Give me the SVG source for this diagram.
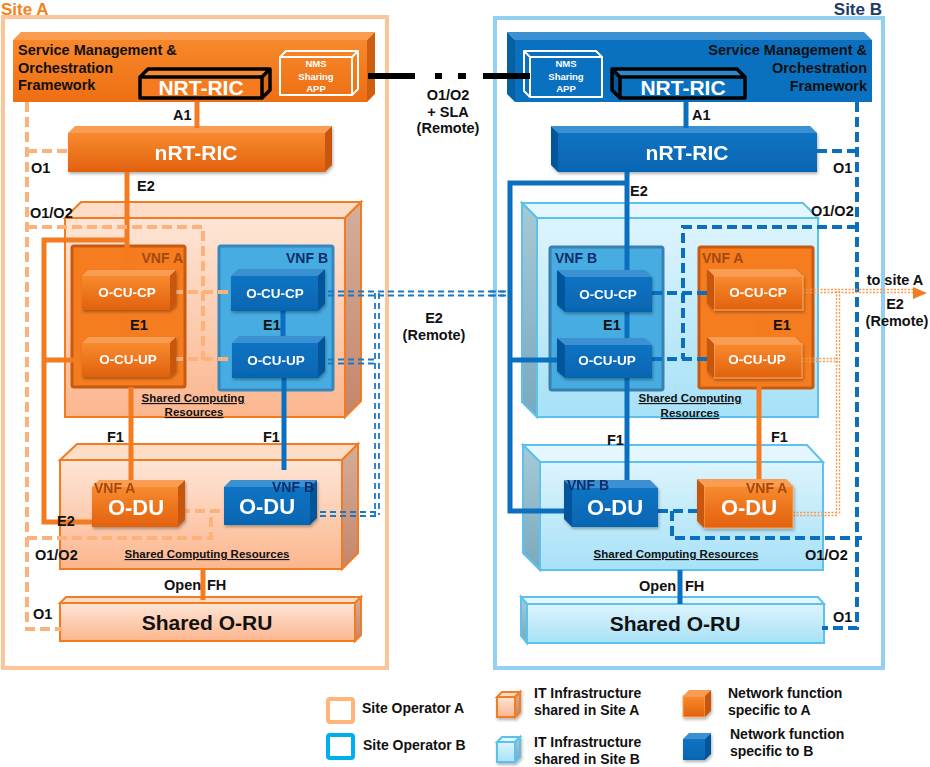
<svg xmlns="http://www.w3.org/2000/svg" width="930" height="767" viewBox="0 0 930 767">
<defs>
<linearGradient id="gOF" x1="0" y1="0" x2="0" y2="1"><stop offset="0" stop-color="#F88A2E"/><stop offset="1" stop-color="#E2610E"/></linearGradient>
<linearGradient id="gBF" x1="0" y1="0" x2="0" y2="1"><stop offset="0" stop-color="#0B73C3"/><stop offset="1" stop-color="#0666B2"/></linearGradient>
<linearGradient id="gPF" x1="0" y1="0" x2="0" y2="1"><stop offset="0" stop-color="#FEE5D6"/><stop offset="1" stop-color="#FBB68E"/></linearGradient>
<linearGradient id="gPS" x1="0" y1="0" x2="0" y2="1"><stop offset="0" stop-color="#D4AE9C"/><stop offset="1" stop-color="#C4866A"/></linearGradient>
<linearGradient id="gCF" x1="0" y1="0" x2="0" y2="1"><stop offset="0" stop-color="#DDF4FD"/><stop offset="1" stop-color="#A7E1F7"/></linearGradient>
<linearGradient id="gCS" x1="0" y1="0" x2="0" y2="1"><stop offset="0" stop-color="#A8C9D6"/><stop offset="1" stop-color="#79A9BD"/></linearGradient>
<linearGradient id="gSMOA" x1="0" y1="0" x2="0" y2="1"><stop offset="0" stop-color="#F8882C"/><stop offset="1" stop-color="#EE6E12"/></linearGradient>
<filter id="sh" x="-10%" y="-10%" width="130%" height="140%"><feDropShadow dx="1" dy="2" stdDeviation="1.5" flood-color="#000" flood-opacity="0.3"/></filter>
</defs>
<style>
text { font-family: "Liberation Sans", Arial, Helvetica, sans-serif; font-weight: bold; }
.lbl { font-size: 14.5px; fill: #111; }
.mid { text-anchor: middle; }
.end { text-anchor: end; }
.cu { font-size: 13.5px; fill: #fff; text-anchor: middle; }
.big { font-size: 21px; fill: #fff; text-anchor: middle; }
.oru { font-size: 21px; fill: #111; text-anchor: middle; }
.nms { font-size: 9.5px; fill: #fff; text-anchor: middle; }
.scr { font-size: 11.5px; fill: #111; text-anchor: middle; text-decoration: underline; }
.vnfa { font-size: 14px; fill: #A44A0F; }
.vnfb { font-size: 14px; fill: #0D2E6B; }
.leg { font-size: 14px; fill: #111; }
.oF { fill: url(#gOF); } .oT { fill: #F99D52; } .oS { fill: #C9570D; }
.bF { fill: url(#gBF); } .bT { fill: #3B90D2; } .bS { fill: #04559B; }
.pF { fill: url(#gPF); stroke: #F47B20; stroke-width: 2; } .pT { fill: #FDDCC8; stroke: #F47B20; stroke-width: 2; } .pS { fill: url(#gPS); stroke: #F47B20; stroke-width: 2; }
.cF { fill: url(#gCF); stroke: #5CC1EC; stroke-width: 2; } .cT { fill: #E4F7FE; stroke: #5CC1EC; stroke-width: 2; } .cS { fill: url(#gCS); stroke: #5CC1EC; stroke-width: 2; }
.oline { stroke: #F47B20; stroke-width: 5; fill: none; }
.bline { stroke: #0A6FBF; stroke-width: 5; fill: none; }
.odash { stroke: #FDB27C; stroke-width: 4; stroke-dasharray: 10 5; fill: none; }
.bdash { stroke: #0A6FBF; stroke-width: 4; stroke-dasharray: 10 5; fill: none; }
.bdbl { stroke: #1A78C8; stroke-width: 1.8; stroke-dasharray: 6 4; fill: none; }
.odot { stroke: #F79A50; stroke-width: 1.4; stroke-dasharray: 2 1.5; fill: none; }
.wout { fill: none; stroke: #fff; stroke-width: 2; stroke-linejoin: round; }
</style>

<!-- Site frames -->
<g id="siteA">
<rect x="3" y="17" width="384" height="651" fill="none" stroke="#FDC49A" stroke-width="4"/>
<text x="1" y="15" style="font-size:17px;fill:#F58220">Site A</text>
</g>
<g id="siteB">
<rect x="495" y="18" width="388" height="650" fill="none" stroke="#92D1F2" stroke-width="4"/>
<text x="882" y="15" class="end" style="font-size:17px;fill:#1B3A6B">Site B</text>
</g>

<!-- Shared computing boxes Site A -->
<g id="scrA1">
<rect x="65" y="218" width="280" height="199" class="pF"/>
<polygon points="65,218 81,202 361,202 345,218" class="pT"/>
<polygon points="345,218 361,202 361,401 345,417" class="pS"/>
<text x="193" y="402" class="scr">Shared Computing</text>
<text x="194" y="416" class="scr">Resources</text>
</g>
<g id="scrA2">
<rect x="60" y="460" width="282" height="109" class="pF"/>
<polygon points="60,460 77,444 358,444 342,460" class="pT"/>
<polygon points="342,460 358,444 358,553 342,569" class="pS"/>
<text x="207" y="558" class="scr">Shared Computing Resources</text>
</g>
<g id="oruA">
<rect x="60" y="603" width="295" height="38" class="pF"/>
<polygon points="60,603 66,597 361,597 355,603" class="pT"/>
<polygon points="355,603 361,597 361,635 355,641" class="pS"/>
<text x="207" y="630" class="oru">Shared O-RU</text>
</g>

<!-- Shared computing boxes Site B -->
<g id="scrB1">
<rect x="537" y="218" width="281" height="199" class="cF"/>
<polygon points="537,218 522,203 803,203 818,218" class="cT"/>
<polygon points="537,218 522,203 522,402 537,417" class="cS"/>
<text x="690" y="402" class="scr">Shared Computing</text>
<text x="690" y="417" class="scr">Resources</text>
</g>
<g id="scrB2">
<rect x="540" y="462" width="283" height="108" class="cF"/>
<polygon points="540,462 523,445 807,445 823,462" class="cT"/>
<polygon points="540,462 523,445 523,553 540,570" class="cS"/>
<text x="676" y="558" class="scr">Shared Computing Resources</text>
</g>
<g id="oruB">
<rect x="527" y="604" width="297" height="39" class="cF"/>
<polygon points="527,604 521,597 818,597 824,604" class="cT"/>
<polygon points="527,604 521,597 521,636 527,643" class="cS"/>
<text x="675" y="631" class="oru">Shared O-RU</text>
</g>

<!-- VNF containers -->
<g id="vnfA_siteA">
<rect x="72" y="246" width="113" height="141" rx="2" fill="#F57C1F" stroke="#C65A12" stroke-width="3"/>
<text x="183" y="263" class="vnfa end">VNF A</text>
</g>
<g id="vnfB_siteA">
<rect x="219" y="246" width="114" height="144" rx="2" fill="#47ACE1" stroke="#3487BF" stroke-width="3"/>
<text x="328" y="263" class="vnfb end">VNF B</text>
</g>
<g id="vnfB_siteB">
<rect x="550" y="247" width="113" height="143" rx="2" fill="#47ACE1" stroke="#3A7FAE" stroke-width="3"/>
<text x="555" y="263" class="vnfb">VNF B</text>
</g>
<g id="vnfA_siteB">
<rect x="699" y="247" width="114" height="141" rx="2" fill="#F57C1F" stroke="#C65A12" stroke-width="3"/>
<text x="702" y="263" class="vnfa">VNF A</text>
</g>

<!-- SMO Site A -->
<g id="smoA">
<rect x="13" y="40" width="354" height="62" fill="url(#gSMOA)"/>
<polygon points="13,40 21,32 375,32 367,40" fill="#F99C4E"/>
<polygon points="367,40 375,32 375,94 367,102" fill="#CF5F10"/>
<text x="18" y="55" class="lbl">Service Management &amp;</text>
<text x="18" y="73" class="lbl">Orchestration</text>
<text x="18" y="90" class="lbl">Framework</text>
</g>
<g id="nrtA">
<rect x="140" y="77" width="122" height="21" fill="#F47B20"/>
<polygon points="140,77 148,69 270,69 262,77" fill="#F58A36"/>
<polygon points="262,77 270,69 270,90 262,98" fill="#E06A12"/>
<path d="M140,77 L148,69 L270,69 L270,90 L262,98 L140,98 Z M140,77 H262 L270,69 M262,77 V98" fill="none" stroke="#000" stroke-width="3.5" stroke-linejoin="round"/>
<text x="201" y="95" class="big">NRT-RIC</text>
</g>
<g id="nmsA">
<path d="M280,57 L286,51 L358,51 L358,89 L352,95 L280,95 Z M280,57 H352 L358,51 M352,57 V95" class="wout"/>
<text x="316" y="67" class="nms">NMS</text>
<text x="316" y="80" class="nms">Sharing</text>
<text x="316" y="92" class="nms">APP</text>
</g>

<!-- SMO Site B -->
<g id="smoB">
<rect x="515" y="40" width="357" height="62" fill="#0A70C0"/>
<polygon points="515,40 507,32 864,32 872,40" fill="#3A90D1"/>
<polygon points="515,40 507,32 507,94 515,102" fill="#07609F"/>
<text x="867" y="55" class="lbl end">Service Management &amp;</text>
<text x="867" y="73" class="lbl end">Orchestration</text>
<text x="867" y="91" class="lbl end">Framework</text>
</g>
<g id="nrtB">
<rect x="620" y="77" width="125" height="21" fill="#0A70C0"/>
<polygon points="620,77 612,69 737,69 745,77" fill="#2F86C9"/>
<polygon points="620,77 612,69 612,90 620,98" fill="#07589A"/>
<path d="M612,69 L737,69 L745,77 L745,98 L620,98 L612,90 Z M612,69 L620,77 H745 M620,77 V98" fill="none" stroke="#000" stroke-width="3.5" stroke-linejoin="round"/>
<text x="683" y="95" class="big">NRT-RIC</text>
</g>
<g id="nmsB">
<path d="M524,51 L596,51 L602,57 L602,97 L530,97 L524,91 Z M524,51 L530,57 H602 M530,57 V97" class="wout"/>
<text x="566" y="67" class="nms">NMS</text>
<text x="566" y="80" class="nms">Sharing</text>
<text x="566" y="92" class="nms">APP</text>
</g>

<!-- nRT-RIC -->
<g id="nrtricA" filter="url(#sh)">
<rect x="68" y="133" width="257" height="39" class="oF"/>
<polygon points="68,133 75,126 332,126 325,133" class="oT"/>
<polygon points="325,133 332,126 332,165 325,172" class="oS"/>
<text x="196" y="160" class="big">nRT-RIC</text>
</g>
<g id="nrtricB" filter="url(#sh)">
<rect x="558" y="133" width="259" height="39" class="bF"/>
<polygon points="558,133 551,126 810,126 817,133" class="bT"/>
<polygon points="558,133 551,126 551,165 558,172" class="bS"/>
<text x="687" y="160" class="big">nRT-RIC</text>
</g>

<!-- Connectors -->
<g id="connectors">
<path class="oline" d="M197,102 V128"/>
<path class="oline" d="M127,172 V276"/>
<path class="oline" d="M127,240 H44 V522 H92"/>
<path class="oline" d="M44,360 H88"/>
<path class="oline" d="M125,310 V343"/>
<path class="oline" d="M131,387 V492"/>
<path class="oline" d="M203,569 V600"/>
<path class="bline" d="M283,311 V343"/>
<path class="bline" d="M284,378 V470"/>
<path class="odash" d="M27,102 V629 H62"/>
<path class="odash" d="M27,151 H68"/>
<path class="odash" d="M27,227 H203 V360"/>
<path class="odash" d="M173,292 H231"/>
<path class="odash" d="M173,359 H232"/>
<path class="odash" d="M27,538 H211 V511"/>
<path class="odash" d="M180,511 H226"/>
<path class="bdbl" d="M318,291.5 H510 M318,295.5 H510"/>
<path class="bdbl" d="M375,293 V515 M379,293 V515"/>
<path class="bdbl" d="M318,359.5 H377 M318,363.5 H377"/>
<path class="bdbl" d="M310,512 H377 M310,516 H377"/>
<path class="bdbl" d="M490,291.5 H512 M490,295.5 H512"/>
<path d="M368,76 H415 M435,76 H442 M458,76 H466 M483,76 H530" stroke="#000" stroke-width="6" fill="none"/>
<path class="bline" d="M686,102 V128"/>
<path class="bline" d="M627,172 V277"/>
<path class="bline" d="M627,183 H510 V511 H572"/>
<path class="bline" d="M510,360 H565"/>
<path class="bline" d="M627,312 V345"/>
<path class="bline" d="M627,378 V488"/>
<path class="bline" d="M680,570 V604"/>
<path class="oline" d="M759,310 V344"/>
<path class="oline" d="M759,378 V486"/>
<path class="bdash" d="M857,102 V628 H822"/>
<path class="bdash" d="M817,151 H857"/>
<path class="bdash" d="M857,227 H683 V359"/>
<path class="bdash" d="M652,293 H714"/>
<path class="bdash" d="M652,359 H714"/>
<path class="bdash" d="M658,511 H704"/>
<path class="bdash" d="M672,511 V538 H862"/>
<path class="odot" d="M803,289.5 H913 M803,292.5 H913"/>
<path class="odot" d="M836.5,291 V515 M839.5,291 V515"/>
<path class="odot" d="M802,358.5 H838 M802,361.5 H838"/>
<path class="odot" d="M793,512.5 H838 M793,515.5 H838"/>
<polygon points="913,287 927,293 913,299" fill="#F47B20"/>
</g>

<!-- NF boxes Site A -->
<g id="cucpA_siteA" filter="url(#sh)">
<rect x="82" y="276" width="88" height="34" class="oF"/>
<polygon points="82,276 88,270 176,270 170,276" class="oT"/>
<polygon points="170,276 176,270 176,304 170,310" class="oS"/>
<text x="127" y="297" class="cu">O-CU-CP</text>
</g>
<g id="cuupA_siteA" filter="url(#sh)">
<rect x="82" y="343" width="88" height="34" class="oF"/>
<polygon points="82,343 88,337 176,337 170,343" class="oT"/>
<polygon points="170,343 176,337 176,371 170,377" class="oS"/>
<text x="128" y="364" class="cu">O-CU-UP</text>
</g>
<g id="cucpB_siteA" filter="url(#sh)">
<rect x="231" y="276" width="87" height="35" class="bF"/>
<polygon points="231,276 238,269 325,269 318,276" class="bT"/>
<polygon points="318,276 325,269 325,304 318,311" class="bS"/>
<text x="275" y="298" class="cu">O-CU-CP</text>
</g>
<g id="cuupB_siteA" filter="url(#sh)">
<rect x="232" y="343" width="86" height="35" class="bF"/>
<polygon points="232,343 239,336 325,336 318,343" class="bT"/>
<polygon points="318,343 325,336 325,371 318,378" class="bS"/>
<text x="276" y="365" class="cu">O-CU-UP</text>
</g>
<g id="oduA_siteA" filter="url(#sh)">
<rect x="92" y="487" width="86" height="40" class="oF"/>
<polygon points="92,487 99,480 185,480 178,487" class="oT"/>
<polygon points="178,487 185,480 185,520 178,527" class="oS"/>
<text x="136" y="515" class="big" style="font-size:22px">O-DU</text>
<text x="94" y="493" class="vnfa">VNF A</text>
</g>
<g id="oduB_siteA" filter="url(#sh)">
<rect x="224" y="487" width="86" height="38" class="bF"/>
<polygon points="224,487 231,480 317,480 310,487" class="bT"/>
<polygon points="310,487 317,480 317,518 310,525" class="bS"/>
<text x="267" y="514" class="big" style="font-size:22px">O-DU</text>
<text x="272" y="492" class="vnfb">VNF B</text>
</g>

<!-- NF boxes Site B -->
<g id="cucpB_siteB" filter="url(#sh)">
<rect x="565" y="277" width="87" height="35" class="bF"/>
<polygon points="565,277 557,270 645,270 652,277" class="bT"/>
<polygon points="565,277 557,270 557,305 565,312" class="bS"/>
<text x="608" y="299" class="cu">O-CU-CP</text>
</g>
<g id="cuupB_siteB" filter="url(#sh)">
<rect x="565" y="345" width="87" height="33" class="bF"/>
<polygon points="565,345 557,338 645,338 652,345" class="bT"/>
<polygon points="565,345 557,338 557,371 565,378" class="bS"/>
<text x="607" y="365" class="cu">O-CU-UP</text>
</g>
<g id="cucpA_siteB" filter="url(#sh)">
<rect x="714" y="276" width="89" height="34" class="oF" stroke="#F9A865" stroke-width="1"/>
<polygon points="714,276 707,269 796,269 803,276" class="oT"/>
<polygon points="714,276 707,269 707,303 714,310" class="oS"/>
<text x="758" y="297" class="cu">O-CU-CP</text>
</g>
<g id="cuupA_siteB" filter="url(#sh)">
<rect x="714" y="344" width="88" height="34" class="oF" stroke="#F9A865" stroke-width="1"/>
<polygon points="714,344 707,337 795,337 802,344" class="oT"/>
<polygon points="714,344 707,337 707,371 714,378" class="oS"/>
<text x="757" y="364" class="cu">O-CU-UP</text>
</g>
<g id="oduB_siteB" filter="url(#sh)">
<rect x="572" y="488" width="86" height="39" class="bF"/>
<polygon points="572,488 564,480 650,480 658,488" class="bT"/>
<polygon points="572,488 564,480 564,519 572,527" class="bS"/>
<text x="615" y="515" class="big" style="font-size:22px">O-DU</text>
<text x="567" y="490" class="vnfb">VNF B</text>
</g>
<g id="oduA_siteB" filter="url(#sh)">
<rect x="704" y="486" width="89" height="42" class="oF" stroke="#F9A865" stroke-width="1"/>
<polygon points="704,486 697,479 786,479 793,486" class="oT"/>
<polygon points="704,486 697,479 697,521 704,528" class="oS"/>
<text x="749" y="515" class="big" style="font-size:22px">O-DU</text>
<text x="746" y="493" class="vnfa">VNF A</text>
</g>

<!-- Interface labels -->
<g id="labels">
<text x="173" y="120" class="lbl">A1</text>
<text x="31" y="173" class="lbl">O1</text>
<text x="137" y="191" class="lbl">E2</text>
<text x="30" y="218" class="lbl">O1/O2</text>
<text x="130" y="330" class="lbl">E1</text>
<text x="263" y="330" class="lbl">E1</text>
<text x="107" y="442" class="lbl">F1</text>
<text x="263" y="442" class="lbl">F1</text>
<text x="57" y="526" class="lbl">E2</text>
<text x="35" y="560" class="lbl">O1/O2</text>
<text x="33" y="619" class="lbl">O1</text>
<text class="lbl"><tspan x="164" y="590">Open</tspan><tspan x="207" y="590">FH</tspan></text>
<text x="448" y="100" class="lbl mid">O1/O2</text>
<text x="448" y="117" class="lbl mid">+ SLA</text>
<text x="448" y="133" class="lbl mid">(Remote)</text>
<text x="434" y="323" class="lbl mid">E2</text>
<text x="434" y="340" class="lbl mid">(Remote)</text>
<text x="692" y="120" class="lbl">A1</text>
<text x="833" y="173" class="lbl">O1</text>
<text x="630" y="196" class="lbl">E2</text>
<text x="811" y="216" class="lbl">O1/O2</text>
<text x="603" y="330" class="lbl">E1</text>
<text x="773" y="330" class="lbl">E1</text>
<text x="607" y="445" class="lbl">F1</text>
<text x="771" y="442" class="lbl">F1</text>
<text x="805" y="560" class="lbl">O1/O2</text>
<text x="833" y="622" class="lbl">O1</text>
<text class="lbl"><tspan x="639" y="591">Open</tspan><tspan x="685" y="591">FH</tspan></text>
<text x="895" y="285" class="lbl mid">to site A</text>
<text x="895" y="309" class="lbl mid">E2</text>
<text x="897" y="326" class="lbl mid">(Remote)</text>
</g>

<!-- Legend -->
<g id="legend">
<rect x="328" y="699" width="25" height="23" rx="2" fill="#fff" stroke="#FFB47A" stroke-width="4"/>
<text x="362" y="713" class="leg">Site Operator A</text>
<rect x="328" y="735" width="25" height="23" rx="2" fill="#fff" stroke="#00AEEF" stroke-width="4"/>
<text x="363" y="750" class="leg">Site Operator B</text>
<g filter="url(#sh)">
<rect x="497" y="697" width="18" height="20" class="pF"/>
<polygon points="497,697 502,692 520,692 515,697" class="pT"/>
<polygon points="515,697 520,692 520,712 515,717" class="pS"/>
</g>
<text x="534" y="698" class="leg">IT Infrastructure</text>
<text x="534" y="715" class="leg">shared in Site A</text>
<g filter="url(#sh)">
<rect x="497" y="742" width="18" height="20" class="cF"/>
<polygon points="497,742 502,737 520,737 515,742" class="cT"/>
<polygon points="515,742 520,737 520,757 515,762" class="cS"/>
</g>
<text x="534" y="747" class="leg">IT Infrastructure</text>
<text x="534" y="764" class="leg">shared in Site B</text>
<g filter="url(#sh)">
<rect x="683" y="696" width="22" height="21" class="oF" stroke="#F9A865" stroke-width="1"/>
<polygon points="683,696 689,690 711,690 705,696" class="oT"/>
<polygon points="705,696 711,690 711,711 705,717" class="oS"/>
</g>
<text x="728" y="698" class="leg">Network function</text>
<text x="728" y="715" class="leg">specific to A</text>
<g filter="url(#sh)">
<rect x="683" y="739" width="22" height="21" class="bF"/>
<polygon points="683,739 689,733 711,733 705,739" class="bT"/>
<polygon points="705,739 711,733 711,754 705,760" class="bS"/>
</g>
<text x="730" y="739" class="leg">Network function</text>
<text x="730" y="756" class="leg">specific to B</text>
</g>
</svg>
